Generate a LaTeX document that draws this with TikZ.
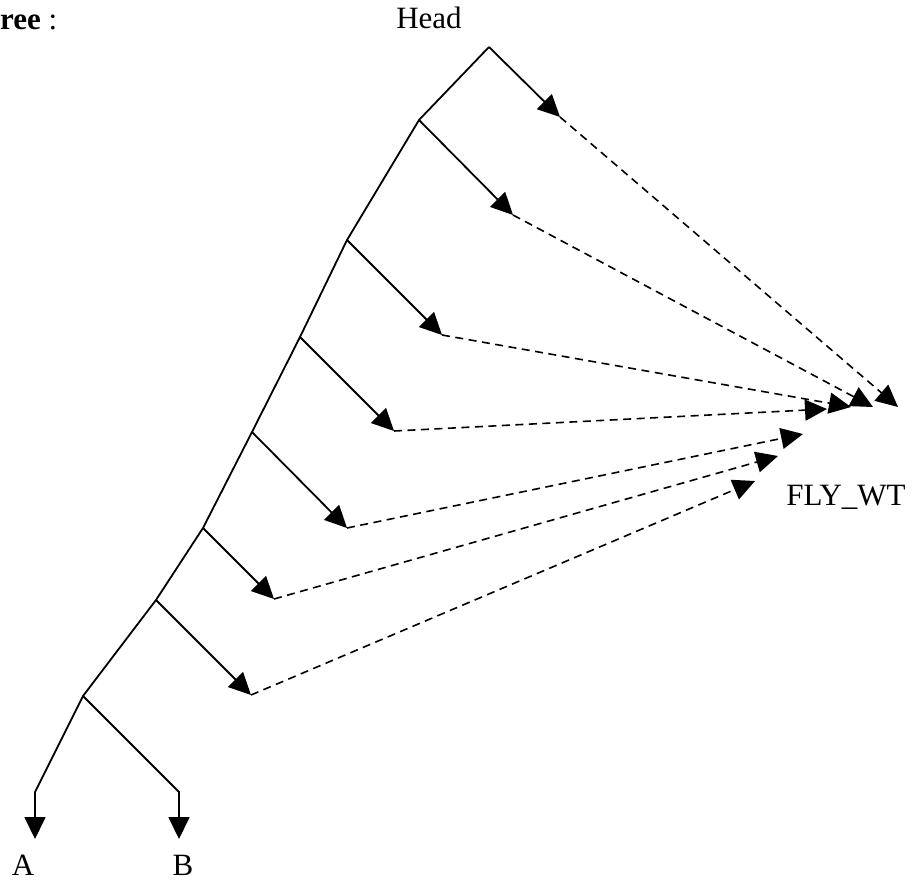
\documentclass[tikz,border=0pt]{standalone}
\usepackage{fontspec}
\setmainfont{Liberation Serif}
\usetikzlibrary{arrows.meta}
\begin{document}
\begin{tikzpicture}[x=1pt,y=-1pt,
  link/.style={line width=1.8pt, line join=miter, -{Triangle[length=22pt,width=21pt]}},
  flylink/.style={line width=1.6pt, dash pattern=on 8pt off 5.5pt, -{Triangle[length=22pt,width=21pt]}},
  lbl/.style={font=\fontsize{31}{31}\selectfont, inner sep=0pt, anchor=base}]
\useasboundingbox (0,0) rectangle (917,883);
% labels
\node[lbl, anchor=base west] (title) at (0,30) {\textbf{ree} :};
\node[lbl] (head) at (429,29) {Head};
\node[lbl] (fly) at (846,505) {FLY\_WT};
\node[lbl] (la) at (23,875) {A};
\node[lbl] (lb) at (183,875) {B};
% spine points
\coordinate (H) at (489,47);
\coordinate (J1) at (419,120);
\coordinate (J2) at (347,240);
\coordinate (J3) at (300,337);
\coordinate (J4) at (252,432);
\coordinate (J5) at (203,528);
\coordinate (J6) at (156,600);
\coordinate (J7) at (83,696);
% branch ends
\coordinate (B0) at (560,117);
\coordinate (B1) at (513,215);
\coordinate (B2) at (442,335);
\coordinate (B3) at (394,431);
\coordinate (B4) at (347,528);
\coordinate (B5) at (274,599);
\coordinate (B6) at (251,695);
% fly targets
\coordinate (F0) at (898,407);
\coordinate (F1) at (873,407);
\coordinate (F2) at (851,407);
\coordinate (F3) at (827,409);
\coordinate (F4) at (803,434);
\coordinate (F5) at (778,456);
\coordinate (F6) at (755,481);
% leaves
\coordinate (Abend) at (35,792);
\coordinate (Atip) at (35,839);
\coordinate (Bbend) at (179,792);
\coordinate (Btip) at (179,839);
% spine
\draw[link] (H) -- (J1) -- (J2) -- (J3) -- (J4) -- (J5) -- (J6) -- (J7) -- (Abend) -- (Atip);
\draw[link] (J7) -- (Bbend) -- (Btip);
% branches
\draw[link] (H) -- (B0);
\draw[link] (J1) -- (B1);
\draw[link] (J2) -- (B2);
\draw[link] (J3) -- (B3);
\draw[link] (J4) -- (B4);
\draw[link] (J5) -- (B5);
\draw[link] (J6) -- (B6);
% dashed links
\draw[flylink] (B0) -- (F0);
\draw[flylink] (B1) -- (F1);
\draw[flylink] (B2) -- (F2);
\draw[flylink] (B3) -- (F3);
\draw[flylink] (B4) -- (F4);
\draw[flylink] (B5) -- (F5);
\draw[flylink] (B6) -- (F6);
\end{tikzpicture}
\end{document}
